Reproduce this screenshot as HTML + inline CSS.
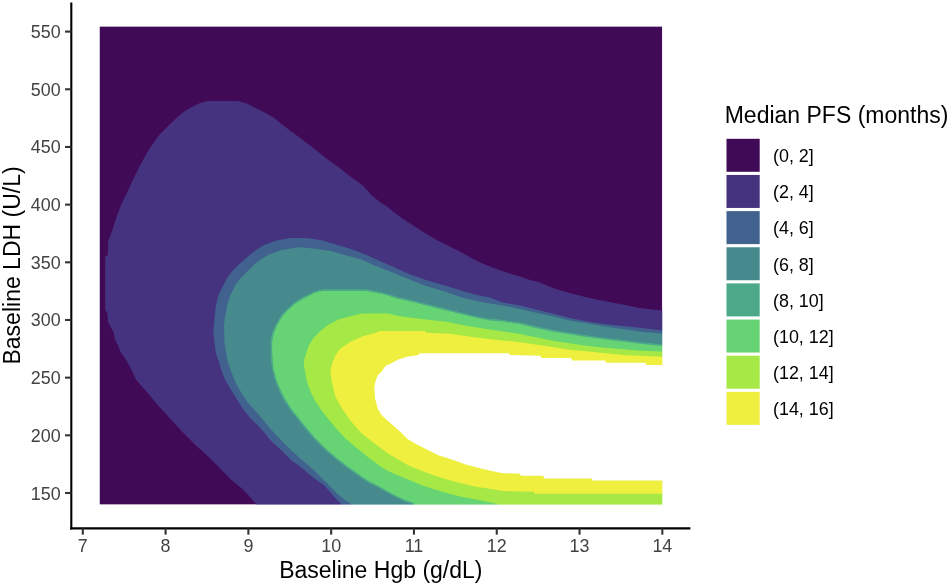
<!DOCTYPE html>
<html><head><meta charset="utf-8"><style>
html,body{margin:0;padding:0;background:#fff;width:950px;height:586px;overflow:hidden}
svg{display:block;will-change:transform}
text{font-family:"Liberation Sans",sans-serif}
.tk{font-size:17.9px;fill:#424242}
.ti{font-size:23px;fill:#000}
.lb{font-size:17.9px;fill:#000}
</style></head><body>
<svg width="950" height="586" viewBox="0 0 950 586">
<rect width="950" height="586" fill="#fff"/>
<mask id="cp" maskUnits="userSpaceOnUse" x="0" y="0" width="950" height="586"><rect x="99.5" y="26.4" width="562.8" height="478.20000000000005" fill="#fff"/></mask>
<g mask="url(#cp)">
<rect x="99.5" y="26.4" width="562.8" height="478.20000000000005" fill="#400A57"/>
<polygon fill="#46337F" points="256.0,524.6 256.0,504.0 248.5,495.3 241.0,487.8 232.0,480.4 219.6,467.9 207.1,455.5 194.7,444.2 182.2,431.8 169.7,418.1 157.3,404.4 144.8,389.4 136.2,380.0 132.8,372.4 128.7,364.2 124.6,357.4 120.5,351.9 117.8,345.1 115.0,339.6 113.7,332.8 110.9,327.3 108.2,321.9 107.5,313.7 105.2,309.6 105.2,257.0 107.8,255.0 108.2,241.0 111.2,233.5 113.7,226.0 117.4,214.5 122.4,202.1 127.4,192.1 133.6,178.4 139.8,166.0 147.3,152.2 154.8,141.0 160.0,134.3 166.1,128.1 174.3,119.9 182.5,112.8 190.7,107.6 198.9,103.6 207.1,100.9 237.8,100.9 246.8,103.5 257.1,108.7 265.6,112.9 274.1,118.0 286.1,127.4 299.7,137.7 313.4,147.9 327.0,159.0 339.0,167.5 350.9,176.9 362.9,185.4 371.4,195.0 380.0,202.2 386.8,206.5 402.2,218.4 414.1,226.1 426.1,233.8 436.3,239.7 448.3,245.7 460.2,251.7 472.2,258.5 482.4,263.6 496.0,268.7 508.0,273.0 519.9,276.4 530.0,280.0 537.1,281.6 554.1,288.4 571.2,293.5 588.3,297.8 605.3,301.2 622.4,304.6 639.5,308.0 662.0,310.6 682.3,310.6 682.3,524.6"/>
<polygon fill="#41628F" points="341.3,524.6 341.3,504.0 335.8,498.4 324.7,485.8 313.7,477.9 302.6,468.4 291.6,460.5 280.5,449.5 270.3,440.0 265.6,434.0 257.1,424.6 249.4,417.3 242.3,407.8 236.3,398.2 230.3,388.7 224.3,377.9 221.3,369.6 218.4,360.0 215.8,353.0 213.3,333.1 214.3,320.0 216.0,305.3 218.5,295.1 222.8,286.6 227.1,278.0 232.2,271.2 239.0,264.4 247.5,256.7 256.1,249.9 264.6,244.7 276.6,240.5 290.2,237.9 307.3,237.9 322.6,240.5 336.3,244.7 348.5,248.2 360.5,252.4 374.1,258.4 391.2,266.1 408.3,273.8 425.3,279.7 442.4,284.8 459.5,290.0 476.5,295.1 490.0,297.6 502.4,302.4 520.0,305.5 537.1,309.7 554.1,314.0 571.2,318.3 588.3,321.7 605.3,324.2 622.4,325.9 639.5,327.7 662.0,330.5 682.3,330.5 682.3,524.6"/>
<polygon fill="#468A8D" points="351.6,524.6 351.6,504.0 346.8,501.6 337.4,493.7 326.3,482.6 313.7,470.0 302.6,460.5 290.5,449.8 282.7,441.7 274.1,433.1 265.6,422.9 257.1,412.7 248.3,403.3 242.3,394.6 236.3,383.9 232.7,375.5 229.7,367.2 227.3,360.0 224.5,343.1 224.0,325.7 224.5,320.0 225.8,313.2 227.1,305.3 230.5,295.1 235.6,284.8 240.7,278.0 247.5,271.2 256.1,262.7 268.0,255.0 281.7,249.9 298.7,247.3 310.7,248.2 329.5,250.7 344.8,255.0 360.5,259.2 374.1,265.2 391.2,272.0 408.3,278.9 425.3,285.7 442.4,290.8 459.5,296.8 476.5,301.1 490.0,303.6 502.4,305.5 520.0,308.9 537.1,313.1 554.1,316.6 571.2,320.8 588.3,323.5 605.3,326.5 622.4,329.0 639.5,331.5 662.0,333.7 682.3,333.7 682.3,524.6"/>
<clipPath id="c4"><polygon points="412.7,524.6 412.7,504.0 404.1,501.3 395.6,497.0 387.5,492.8 378.5,487.6 370.0,483.4 362.6,478.7 348.0,468.5 337.0,460.0 326.3,451.1 321.9,446.8 313.4,438.3 304.8,428.0 298.0,419.5 291.2,411.0 284.4,400.7 279.2,390.5 275.0,380.2 272.5,370.0 271.6,365.3 270.7,351.7 270.7,341.4 272.4,332.9 275.8,324.4 281.0,315.8 286.1,309.9 294.6,302.2 303.1,297.1 313.4,291.9 321.9,289.4 366.3,289.4 379.9,291.9 390.0,294.5 396.3,296.8 411.7,300.2 428.7,304.5 445.8,308.7 462.9,313.0 476.5,316.4 490.0,319.0 503.1,320.0 513.3,321.7 520.0,322.6 537.1,326.8 554.1,330.2 571.2,333.0 588.3,335.8 605.3,337.9 622.4,340.0 639.5,342.2 662.0,344.5 682.3,344.5 682.3,524.6"/></clipPath>
<polygon clip-path="url(#c4)" fill="#66D474" stroke="#4BA98A" stroke-width="3" points="412.7,524.6 412.7,504.0 404.1,501.3 395.6,497.0 387.5,492.8 378.5,487.6 370.0,483.4 362.6,478.7 348.0,468.5 337.0,460.0 326.3,451.1 321.9,446.8 313.4,438.3 304.8,428.0 298.0,419.5 291.2,411.0 284.4,400.7 279.2,390.5 275.0,380.2 272.5,370.0 271.6,365.3 270.7,351.7 270.7,341.4 272.4,332.9 275.8,324.4 281.0,315.8 286.1,309.9 294.6,302.2 303.1,297.1 313.4,291.9 321.9,289.4 366.3,289.4 379.9,291.9 390.0,294.5 396.3,296.8 411.7,300.2 428.7,304.5 445.8,308.7 462.9,313.0 476.5,316.4 490.0,319.0 503.1,320.0 513.3,321.7 520.0,322.6 537.1,326.8 554.1,330.2 571.2,333.0 588.3,335.8 605.3,337.9 622.4,340.0 639.5,342.2 662.0,344.5 682.3,344.5 682.3,524.6"/>
<polygon fill="#A6E845" points="498.0,524.6 498.0,504.0 489.5,502.2 475.8,499.6 462.2,497.0 448.5,493.6 434.8,489.4 421.2,485.1 409.5,480.0 396.0,474.5 387.1,470.6 379.0,465.3 369.0,458.0 357.0,448.2 346.0,439.0 337.3,429.7 328.7,419.5 321.9,411.0 315.1,400.7 310.0,390.5 306.6,380.2 304.8,370.0 304.0,365.3 304.0,360.0 305.7,355.1 308.3,346.6 313.4,338.0 320.2,331.2 328.7,324.4 339.0,319.2 349.2,316.4 362.2,313.5 387.8,313.5 401.4,316.4 421.9,319.0 429.7,320.0 446.8,321.7 458.7,324.3 472.4,326.8 489.5,329.4 506.5,331.9 520.0,334.0 537.1,337.5 554.1,341.0 571.2,343.5 588.3,346.0 605.3,347.7 622.4,349.3 639.5,350.7 662.0,351.6 682.3,351.6 682.3,524.6"/>
<polygon fill="#EEEF3E" points="682.3,493.7 662.0,493.7 534.5,493.7 533.7,491.7 520.0,491.4 503.1,491.1 489.5,488.8 475.8,486.8 462.2,483.4 448.5,480.0 434.8,475.7 421.2,470.6 409.5,466.0 397.3,459.0 388.0,453.5 380.0,447.5 371.0,440.7 361.2,433.1 350.9,421.2 342.4,409.2 335.6,397.3 332.2,383.7 330.4,372.2 330.4,370.0 332.2,363.6 335.6,355.1 340.7,348.3 350.9,341.4 362.9,336.3 374.8,332.9 380.2,331.1 424.6,331.1 426.3,332.8 450.2,333.7 472.4,337.1 492.9,339.6 511.6,341.3 520.0,342.2 537.1,344.7 554.1,347.3 571.2,349.9 588.3,351.6 605.3,353.3 622.4,355.0 639.5,355.8 662.0,356.7 682.3,356.7"/>
<polygon fill="#FFFFFF" points="682.3,364.9 662.0,364.9 646.3,364.9 645.4,362.7 606.2,362.7 605.3,360.4 572.0,360.4 571.2,357.9 541.3,357.9 540.5,355.8 520.0,355.3 509.9,355.0 509.1,353.3 419.5,353.3 418.6,355.0 407.5,356.7 399.0,359.2 392.2,362.7 385.4,366.1 381.9,371.2 377.7,375.5 375.1,382.3 374.3,388.3 375.1,398.5 377.7,408.7 381.9,415.6 387.1,420.2 393.9,426.2 400.7,432.2 407.5,439.0 416.1,444.1 426.3,449.2 438.3,455.2 451.9,459.5 465.6,464.6 479.2,468.0 489.5,470.6 501.4,473.1 520.0,473.8 520.9,475.8 543.5,475.8 543.9,478.4 591.7,478.4 592.0,480.6 662.0,480.6 682.3,480.6"/>
</g>
<line x1="71.3" y1="2.5" x2="71.3" y2="529.4499999999999" stroke="#000" stroke-width="2.1"/>
<line x1="70.25" y1="528.4" x2="690.4" y2="528.4" stroke="#000" stroke-width="2.1"/>
<line x1="65.05" y1="493.00" x2="71.30" y2="493.00" stroke="#333" stroke-width="2.1"/>
<text x="60.6" y="499.50" text-anchor="end" class="tk">150</text>
<line x1="65.05" y1="435.32" x2="71.30" y2="435.32" stroke="#333" stroke-width="2.1"/>
<text x="60.6" y="441.82" text-anchor="end" class="tk">200</text>
<line x1="65.05" y1="377.65" x2="71.30" y2="377.65" stroke="#333" stroke-width="2.1"/>
<text x="60.6" y="384.15" text-anchor="end" class="tk">250</text>
<line x1="65.05" y1="319.98" x2="71.30" y2="319.98" stroke="#333" stroke-width="2.1"/>
<text x="60.6" y="326.48" text-anchor="end" class="tk">300</text>
<line x1="65.05" y1="262.30" x2="71.30" y2="262.30" stroke="#333" stroke-width="2.1"/>
<text x="60.6" y="268.80" text-anchor="end" class="tk">350</text>
<line x1="65.05" y1="204.62" x2="71.30" y2="204.62" stroke="#333" stroke-width="2.1"/>
<text x="60.6" y="211.12" text-anchor="end" class="tk">400</text>
<line x1="65.05" y1="146.95" x2="71.30" y2="146.95" stroke="#333" stroke-width="2.1"/>
<text x="60.6" y="153.45" text-anchor="end" class="tk">450</text>
<line x1="65.05" y1="89.28" x2="71.30" y2="89.28" stroke="#333" stroke-width="2.1"/>
<text x="60.6" y="95.78" text-anchor="end" class="tk">500</text>
<line x1="65.05" y1="31.60" x2="71.30" y2="31.60" stroke="#333" stroke-width="2.1"/>
<text x="60.6" y="38.10" text-anchor="end" class="tk">550</text>
<line x1="82.80" y1="528.40" x2="82.80" y2="534.65" stroke="#333" stroke-width="2.1"/>
<text x="82.80" y="552.3" text-anchor="middle" class="tk">7</text>
<line x1="165.59" y1="528.40" x2="165.59" y2="534.65" stroke="#333" stroke-width="2.1"/>
<text x="165.59" y="552.3" text-anchor="middle" class="tk">8</text>
<line x1="248.38" y1="528.40" x2="248.38" y2="534.65" stroke="#333" stroke-width="2.1"/>
<text x="248.38" y="552.3" text-anchor="middle" class="tk">9</text>
<line x1="331.17" y1="528.40" x2="331.17" y2="534.65" stroke="#333" stroke-width="2.1"/>
<text x="331.17" y="552.3" text-anchor="middle" class="tk">10</text>
<line x1="413.96" y1="528.40" x2="413.96" y2="534.65" stroke="#333" stroke-width="2.1"/>
<text x="413.96" y="552.3" text-anchor="middle" class="tk">11</text>
<line x1="496.75" y1="528.40" x2="496.75" y2="534.65" stroke="#333" stroke-width="2.1"/>
<text x="496.75" y="552.3" text-anchor="middle" class="tk">12</text>
<line x1="579.54" y1="528.40" x2="579.54" y2="534.65" stroke="#333" stroke-width="2.1"/>
<text x="579.54" y="552.3" text-anchor="middle" class="tk">13</text>
<line x1="662.33" y1="528.40" x2="662.33" y2="534.65" stroke="#333" stroke-width="2.1"/>
<text x="662.33" y="552.3" text-anchor="middle" class="tk">14</text>
<text x="380.85" y="578.1" text-anchor="middle" class="ti">Baseline Hgb (g/dL)</text>
<text transform="translate(19.8,265.45) rotate(-90)" x="0" y="0" text-anchor="middle" class="ti">Baseline LDH (U/L)</text>
<text x="724.7" y="122.9" class="ti">Median PFS (months)</text>
<rect x="726.5" y="138.80" width="33.2" height="33" fill="#400A57"/>
<text x="773.0" y="162.10" class="lb">(0, 2]</text>
<rect x="726.5" y="174.95" width="33.2" height="33" fill="#46337F"/>
<text x="773.0" y="198.25" class="lb">(2, 4]</text>
<rect x="726.5" y="211.10" width="33.2" height="33" fill="#41628F"/>
<text x="773.0" y="234.40" class="lb">(4, 6]</text>
<rect x="726.5" y="247.25" width="33.2" height="33" fill="#468A8D"/>
<text x="773.0" y="270.55" class="lb">(6, 8]</text>
<rect x="726.5" y="283.40" width="33.2" height="33" fill="#4BA98A"/>
<text x="773.0" y="306.70" class="lb">(8, 10]</text>
<rect x="726.5" y="319.55" width="33.2" height="33" fill="#66D474"/>
<text x="773.0" y="342.85" class="lb">(10, 12]</text>
<rect x="726.5" y="355.70" width="33.2" height="33" fill="#A6E845"/>
<text x="773.0" y="379.00" class="lb">(12, 14]</text>
<rect x="726.5" y="391.85" width="33.2" height="33" fill="#EEEF3E"/>
<text x="773.0" y="415.15" class="lb">(14, 16]</text>
</svg>
</body></html>
